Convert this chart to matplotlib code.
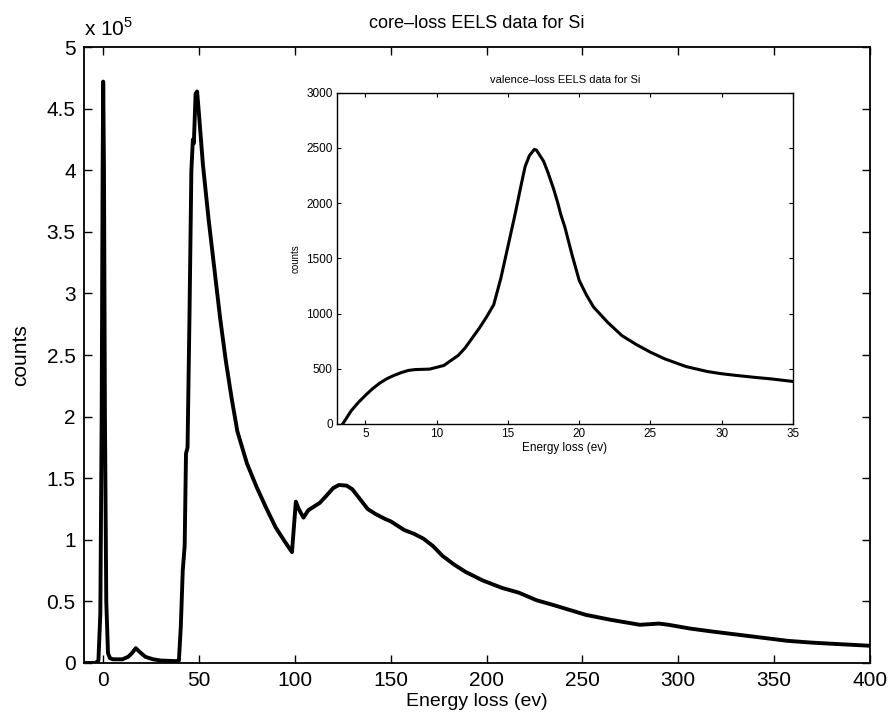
import numpy as np
import matplotlib.pyplot as plt
from matplotlib.ticker import FuncFormatter

# core-loss spectrum (counts in units of 1e5)
core_energy = [-10, -4, -2.5, -1.5, -0.8, -0.3, 0, 0.4, 0.9, 1.6, 2.5, 3.5, 5, 10, 13, 15, 17, 19, 22, 26,
               30, 38, 39.5, 40.5, 41.5, 42.5, 43.2, 44, 45, 46, 46.8, 47.3, 48.2, 49, 50, 52, 55, 58, 61,
               64, 67, 70, 75, 80, 85, 90, 95, 98.5, 100.5, 102, 104.5, 107, 110, 113, 116, 120, 123, 127,
               130, 134, 138, 142, 147, 150, 152, 157, 162, 167, 172, 177, 183, 189, 198, 208, 217, 226,
               235, 252, 265, 280, 285, 290, 295, 306, 318, 331, 344, 357, 370, 384, 400]
core_counts = [0, 0, 0.02, 0.4, 2.0, 4.0, 4.72, 4.0, 2.0, 0.5, 0.08, 0.04, 0.03, 0.03, 0.05, 0.08, 0.12,
               0.09, 0.05, 0.03, 0.02, 0.015, 0.02, 0.3, 0.75, 0.95, 1.7, 1.75, 2.8, 4.0, 4.25, 4.22, 4.62,
               4.64, 4.45, 4.05, 3.6, 3.2, 2.8, 2.45, 2.15, 1.88, 1.62, 1.43, 1.26, 1.1, 0.98, 0.9, 1.31,
               1.25, 1.18, 1.24, 1.27, 1.3, 1.35, 1.42, 1.445, 1.44, 1.41, 1.33, 1.25, 1.21, 1.17, 1.15,
               1.13, 1.08, 1.05, 1.01, 0.95, 0.87, 0.8, 0.74, 0.67, 0.61, 0.57, 0.51, 0.47, 0.39, 0.35,
               0.31, 0.315, 0.32, 0.31, 0.28, 0.255, 0.23, 0.205, 0.18, 0.165, 0.153, 0.14]

# valence-loss spectrum (inset)
val_energy = [3.4, 3.7, 4.0, 4.5, 5.0, 5.5, 6.0, 6.5, 7.0, 7.5, 8.0, 8.5, 9.0, 9.5, 10.5, 11.5, 12.0,
              12.5, 13.0, 13.5, 14.0, 14.5, 15.0, 15.5, 15.9, 16.2, 16.5, 16.85, 17.0, 17.3, 17.5, 17.8,
              18.2, 18.5, 18.7, 19.0, 19.5, 20.0, 20.5, 21.0, 21.5, 22.0, 22.5, 23.0, 24.0, 25.0, 26.0,
              27.5, 29.0, 30.0, 31.0, 32.5, 33.5, 35.0]
val_counts = [0, 60, 120, 195, 260, 320, 370, 410, 440, 465, 485, 493, 495, 497, 530, 620, 690,
              780, 870, 970, 1080, 1320, 1610, 1900, 2150, 2330, 2430, 2487, 2480, 2420, 2380, 2280,
              2130, 2000, 1900, 1780, 1530, 1300, 1170, 1060, 990, 920, 860, 800, 720, 650, 590,
              520, 475, 455, 440, 420, 408, 385]

main_xticks = [0, 50, 100, 150, 200, 250, 300, 350, 400]
main_yticks = [0, 0.5, 1, 1.5, 2, 2.5, 3, 3.5, 4, 4.5, 5]
inset_xticks = [5, 10, 15, 20, 25, 30, 35]
inset_yticks = [0, 500, 1000, 1500, 2000, 2500, 3000]

plt.rcParams['font.family'] = ['Liberation Sans', 'DejaVu Sans']
plt.rcParams['mathtext.fontset'] = 'custom'
plt.rcParams['mathtext.rm'] = 'Liberation Sans'

fig = plt.figure(figsize=(8.95, 7.28), dpi=100)
ax = fig.add_axes([0.0939, 0.0893, 0.878, 0.846])
ax.plot(core_energy, core_counts, color='black', linewidth=2.8)
ax.set_xlim(-10, 400)
ax.set_ylim(0, 5)
ax.set_xticks(main_xticks)
ax.set_yticks(main_yticks)
ax.yaxis.set_major_formatter(FuncFormatter(lambda v, p: '%g' % v))
ax.tick_params(direction='in', length=6, width=1, top=True, right=True, labelsize=15, pad=6)
for s in ax.spines.values():
    s.set_linewidth(1.3)
ax.set_xlabel('Energy loss (ev)', fontsize=14, labelpad=2)
ax.set_ylabel('counts', fontsize=15, labelpad=12)
ax.set_title('core\u2013loss EELS data for Si', fontsize=13, pad=14)
ax.text(0.0, 1.012, r'x 10$^{5}$', transform=ax.transAxes, fontsize=15, ha='left', va='bottom')

ins = fig.add_axes([0.3765, 0.4176, 0.5095, 0.455])
ins.plot(val_energy, val_counts, color='black', linewidth=2.2)
ins.set_xlim(3, 35)
ins.set_ylim(0, 3000)
ins.set_xticks(inset_xticks)
ins.set_yticks(inset_yticks)
ins.tick_params(direction='in', length=3, width=0.8, top=True, right=True, labelsize=8.5, pad=3)
for s in ins.spines.values():
    s.set_linewidth(1.0)
ins.set_xlabel('Energy loss (ev)', fontsize=8.5, labelpad=1)
ins.set_ylabel('counts', fontsize=7, labelpad=4)
ins.set_title('valence\u2013loss EELS data for Si', fontsize=8, pad=7)

fig.savefig('out.png', dpi=100)
